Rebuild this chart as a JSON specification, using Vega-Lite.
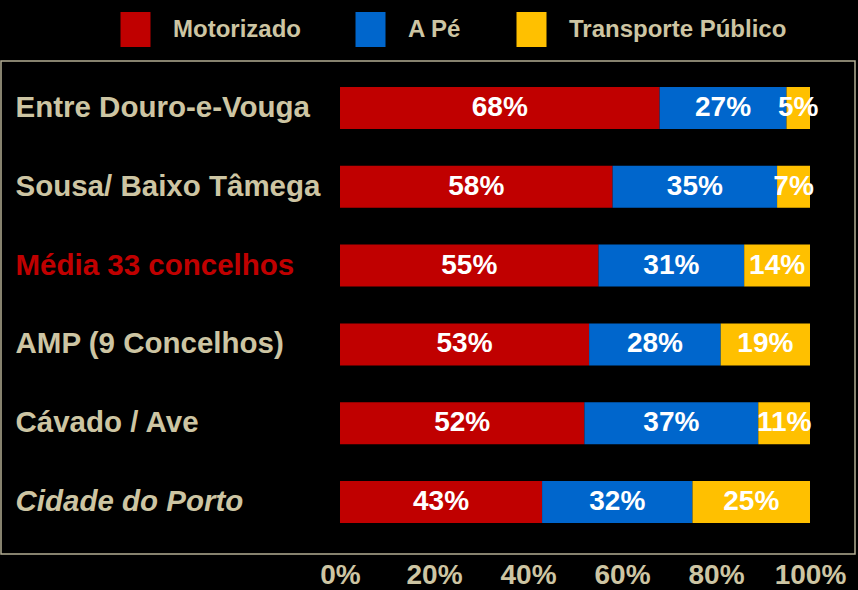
{
  "$schema": "https://vega.github.io/schema/vega-lite/v6.json",
  "width": 854,
  "height": 493,
  "autosize": {"type": "none"},
  "padding": {"left": 1, "top": 61, "right": 3, "bottom": 36},
  "background": "#000000",
  "config": {
    "view": {"stroke": "#B3AD93", "strokeWidth": 1.5},
    "font": "Liberation Sans"
  },
  "data": {
    "values": [
      {"regiao": "Entre Douro-e-Vouga", "modo": "Motorizado", "pct": 68},
      {"regiao": "Entre Douro-e-Vouga", "modo": "A Pé", "pct": 27},
      {"regiao": "Entre Douro-e-Vouga", "modo": "Transporte Público", "pct": 5},
      {"regiao": "Sousa/ Baixo Tâmega", "modo": "Motorizado", "pct": 58},
      {"regiao": "Sousa/ Baixo Tâmega", "modo": "A Pé", "pct": 35},
      {"regiao": "Sousa/ Baixo Tâmega", "modo": "Transporte Público", "pct": 7},
      {"regiao": "Média 33 concelhos", "modo": "Motorizado", "pct": 55},
      {"regiao": "Média 33 concelhos", "modo": "A Pé", "pct": 31},
      {"regiao": "Média 33 concelhos", "modo": "Transporte Público", "pct": 14},
      {"regiao": "AMP (9 Concelhos)", "modo": "Motorizado", "pct": 53},
      {"regiao": "AMP (9 Concelhos)", "modo": "A Pé", "pct": 28},
      {"regiao": "AMP (9 Concelhos)", "modo": "Transporte Público", "pct": 19},
      {"regiao": "Cávado / Ave", "modo": "Motorizado", "pct": 52},
      {"regiao": "Cávado / Ave", "modo": "A Pé", "pct": 37},
      {"regiao": "Cávado / Ave", "modo": "Transporte Público", "pct": 11},
      {"regiao": "Cidade do Porto", "modo": "Motorizado", "pct": 43},
      {"regiao": "Cidade do Porto", "modo": "A Pé", "pct": 32},
      {"regiao": "Cidade do Porto", "modo": "Transporte Público", "pct": 25}
    ]
  },
  "transform": [
    {"calculate": "indexof(['Motorizado','A Pé','Transporte Público'], datum.modo)", "as": "ordem"},
    {"stack": "pct", "groupby": ["regiao"], "sort": [{"field": "ordem"}], "as": ["p0", "p1"]},
    {"calculate": "(datum.p0 + datum.p1) / 2", "as": "pm"},
    {"calculate": "datum.pct + '%'", "as": "rotulo"}
  ],
  "encoding": {
    "y": {
      "field": "regiao",
      "type": "nominal",
      "sort": ["Entre Douro-e-Vouga", "Sousa/ Baixo Tâmega", "Média 33 concelhos", "AMP (9 Concelhos)", "Cávado / Ave", "Cidade do Porto"],
      "scale": {"paddingInner": 0.467, "paddingOuter": 0.362, "align": 0.456},
      "axis": {
        "title": null,
        "orient": "left",
        "domain": false,
        "ticks": false,
        "tickSize": 0,
        "grid": false,
        "labelAlign": "left",
        "labelPadding": -14,
        "labelLimit": 500,
        "labelFont": "Liberation Sans",
        "labelFontWeight": "bold",
        "labelFontSize": 29.5,
        "labelColor": {"condition": {"test": "datum.value === 'Média 33 concelhos'", "value": "#C00000"}, "value": "#CDC5A3"},
        "labelFontStyle": {"condition": {"test": "datum.value === 'Cidade do Porto'", "value": "italic"}, "value": "normal"}
      }
    }
  },
  "layer": [
    {
      "mark": {"type": "bar"},
      "encoding": {
        "x": {
          "field": "p0",
          "type": "quantitative",
          "scale": {"domain": [0, 100], "range": [339, 809], "nice": false, "zero": false},
          "axis": {
            "title": null,
            "values": [0, 20, 40, 60, 80, 100],
            "labelExpr": "datum.value + '%'",
            "domain": false,
            "ticks": false,
            "tickSize": 0,
            "grid": false,
            "labelPadding": 7,
            "labelFont": "Liberation Sans",
            "labelFontWeight": "bold",
            "labelFontSize": 28,
            "labelColor": "#CDC5A3",
            "labelFlush": false,
            "labelOverlap": false
          }
        },
        "x2": {"field": "p1"},
        "color": {
          "field": "modo",
          "type": "nominal",
          "scale": {"domain": ["Motorizado", "A Pé", "Transporte Público"], "range": ["#C00000", "#0066CC", "#FFC000"]},
          "legend": {
            "orient": "none",
            "legendX": 117,
            "legendY": -49,
            "direction": "horizontal",
            "title": null,
            "padding": 0,
            "symbolType": "M-0.857,-1H0.857V1H-0.857Z",
            "symbolSize": 1225,
            "symbolStrokeWidth": 0,
            "symbolOpacity": 1,
            "labelFont": "Liberation Sans",
            "labelFontSize": 24,
            "labelFontWeight": "bold",
            "labelColor": "#CDC5A3",
            "labelOffset": 20,
            "columnPadding": 52,
            "labelLimit": 400
          }
        }
      }
    },
    {
      "mark": {"type": "text", "font": "Liberation Sans", "fontWeight": "bold", "fontSize": 28, "color": "#FFFFFF", "baseline": "middle", "align": "center"},
      "encoding": {
        "x": {"field": "pm", "type": "quantitative"},
        "text": {"field": "rotulo"}
      }
    }
  ]
}
